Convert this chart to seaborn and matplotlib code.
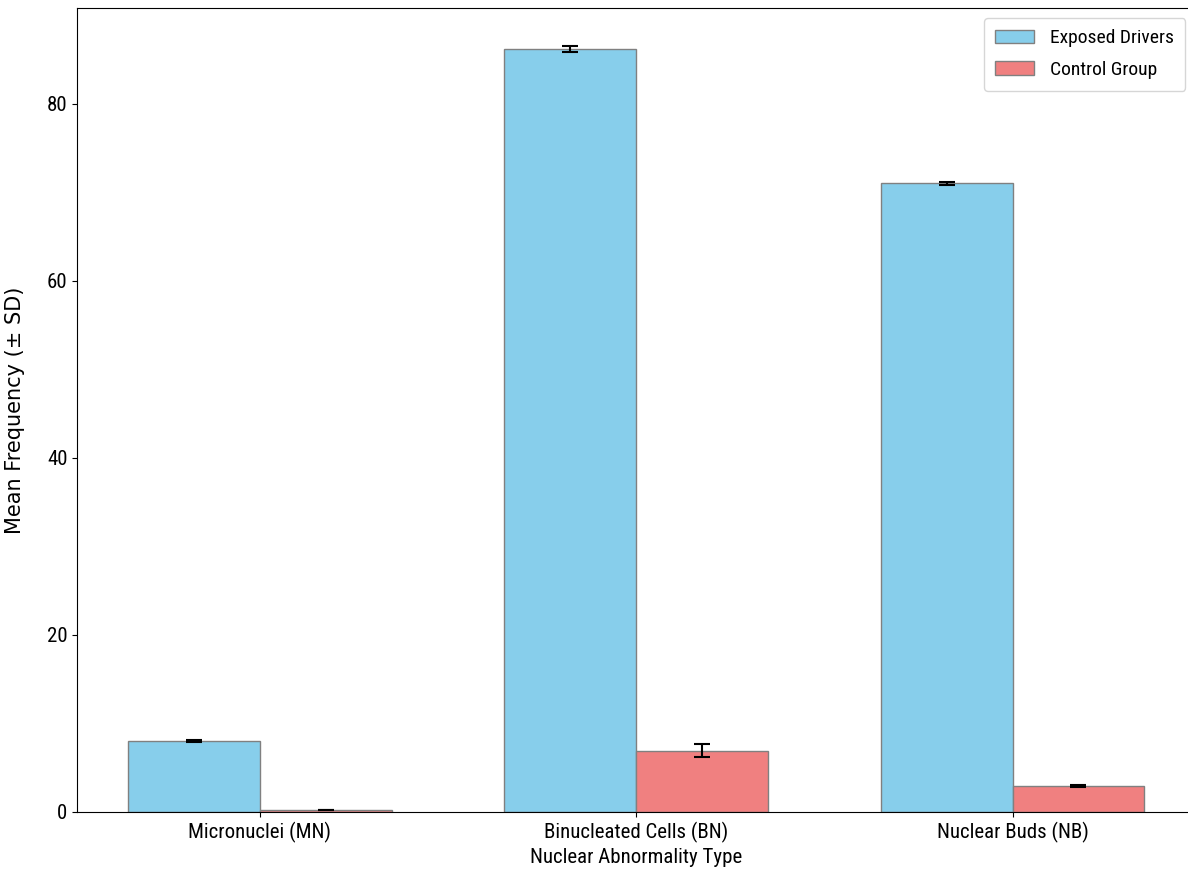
import matplotlib
matplotlib.use("Agg")
import matplotlib.pyplot as plt
import pandas as pd
import seaborn as sns

categories = ["Micronuclei (MN)", "Binucleated Cells (BN)", "Nuclear Buds (NB)"]
groups = ["Exposed Drivers", "Control Group"]
exposed_mean = [8.0, 86.2, 71.0]
exposed_sd = [0.1, 0.3, 0.15]
control_mean = [0.2, 6.9, 2.9]
control_sd = [0.05, 0.7, 0.15]
palette = {"Exposed Drivers": "skyblue", "Control Group": "lightcoral"}

df = pd.DataFrame({
    "type": categories * 2,
    "group": [groups[0]] * 3 + [groups[1]] * 3,
    "mean": exposed_mean + control_mean,
    "sd": exposed_sd + control_sd,
})

plt.rcParams["font.family"] = ["Roboto Condensed", "Liberation Sans Narrow", "DejaVu Sans"]

fig, ax = plt.subplots(figsize=(11.88, 8.94), dpi=100)
fig.subplots_adjust(left=0.065, right=1.006, top=0.991, bottom=0.092)

sns.barplot(data=df, x="type", y="mean", hue="group", hue_order=groups,
            palette=palette, saturation=1, width=0.7, edgecolor="gray",
            linewidth=1, errorbar=None, ax=ax)

# error bars at bar centres
for container, g in zip(ax.containers, groups):
    sub = df[df["group"] == g]
    xs = [p.get_x() + p.get_width() / 2 for p in container.patches]
    ax.errorbar(xs, sub["mean"].values, yerr=sub["sd"].values, fmt="none",
                ecolor="black", elinewidth=1.5, capsize=6, capthick=1.5)

ax.set_xlabel("Nuclear Abnormality Type", fontsize=15)
ax.set_ylabel("Mean Frequency (± SD)", fontsize=15, family="DejaVu Sans")
ax.yaxis.set_label_coords(-0.047, 0.5)
ax.tick_params(labelsize=15)
ax.legend(loc="upper right", fontsize=14, frameon=True, borderpad=0.6,
          labelspacing=0.7)

plt.savefig("out.png", dpi=100)
plt.close()
